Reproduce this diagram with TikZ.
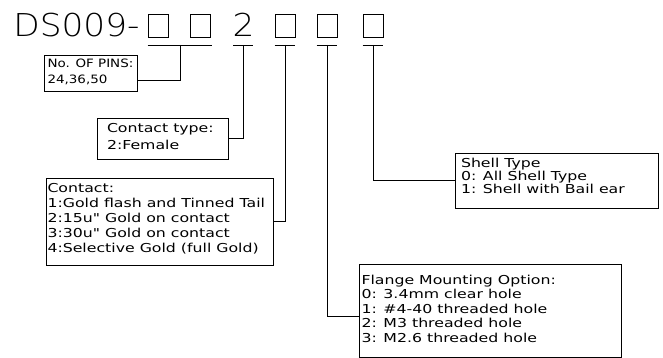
\documentclass[tikz,border=0pt]{standalone}
\usepackage{fontspec}
\newfontfamily\cadfont[FakeStretch=1.28]{DejaVu Sans}
\newfontfamily\pinfont[FakeStretch=1.17]{DejaVu Sans}
\newfontfamily\titlefont[FakeStretch=1.09]{DejaVuSans-ExtraLight.ttf}
\begin{document}
\begin{tikzpicture}[x=1pt,y=-1pt,
  line width=0.8pt,
  sq/.style={draw, line width=0.8pt, minimum width=20pt, minimum height=23pt, inner sep=0pt},
  bx/.style={draw, line width=0.8pt, inner sep=0pt},
  txt/.style={anchor=north west, inner sep=0pt, align=left},
  ttl/.style={inner sep=0pt, font=\titlefont\fontsize{31.5}{31.5}\selectfont},
]
\useasboundingbox (0,0) rectangle (663,358);
% title
\node[ttl, anchor=base west] (title) at (13,37) {DS009-};
\node[sq] (s1) at (158,25.5) {};
\node[sq] (s2) at (200,25.5) {};
\node[ttl, anchor=base] (two) at (243.5,37) {2};
\node[sq] (s3) at (285,25.5) {};
\node[sq] (s4) at (327,25.5) {};
\node[sq] (s5) at (373,25.5) {};
% bar centres
\coordinate (t1) at (180,45);
\coordinate (t2) at (243,45);
\coordinate (t3) at (285,45);
\coordinate (t4) at (327,45);
\coordinate (t5) at (373,45);
% bars
\draw (s1.south west |- t1) -- ([xshift=2pt]s2.south east |- t1);
\draw ([xshift=-10pt]t2) -- ([xshift=10pt]t2);
\draw (s3.south west |- t3) -- (s3.south east |- t3);
\draw (s4.south west |- t4) -- (s4.south east |- t4);
\draw (s5.south west |- t5) -- (s5.south east |- t5);
% boxes
\node[bx, minimum width=93pt, minimum height=36pt] (pins) at (90.5,73) {};
\node[bx, minimum width=131pt, minimum height=41pt] (ctype) at (162.5,138.5) {};
\node[bx, minimum width=227pt, minimum height=87pt] (contact) at (159.5,221.5) {};
\node[bx, minimum width=203pt, minimum height=55pt] (shell) at (556.5,180.5) {};
\node[bx, minimum width=262pt, minimum height=93pt] (flange) at (490,310.5) {};
% texts
\node[txt, font=\pinfont\fontsize{11.5}{16.7}\selectfont] (pinstxt) at ([xshift=3.5pt,yshift=-3.5pt]pins.north west)
  {No. OF PINS:\\24,36,50};
\node[txt, font=\cadfont\fontsize{12.3}{17}\selectfont] (ctypetxt) at ([xshift=10pt,yshift=-5.5pt]ctype.north west)
  {Contact type:\\2:Female};
\node[txt, font=\cadfont\fontsize{12.3}{15}\selectfont] (contacttxt) at ([xshift=1.5pt,yshift=-5.5pt]contact.north west)
  {Contact:\\1:Gold flash and Tinned Tail\\2:15u" Gold on contact\\3:30u" Gold on contact\\4:Selective Gold (full Gold)};
\node[txt, font=\cadfont\fontsize{12.3}{11}\selectfont] (shelltxt) at ([xshift=6pt,yshift=-5.1pt]shell.north west)
  {Shell Type\\0: All Shell Type\\1: Shell with Bail ear};
\node[txt, font=\cadfont\fontsize{12.3}{14.5}\selectfont] (flangetxt) at ([xshift=2.5pt,yshift=-11.1pt]flange.north west)
  {Flange Mounting Option:\\0: 3.4mm clear hole\\1: \#4-40 threaded hole\\2: M3 threaded hole\\3: M2.6 threaded hole};
% connectors
\draw (t1) |- ([yshift=-7pt]pins.east);
\draw (t2) |- (ctype.east);
\draw (t3) |- (contact.east);
\draw (t4) |- ([yshift=-5.5pt]flange.west);
\draw (t5) |- (shell.west);
\end{tikzpicture}
\end{document}
